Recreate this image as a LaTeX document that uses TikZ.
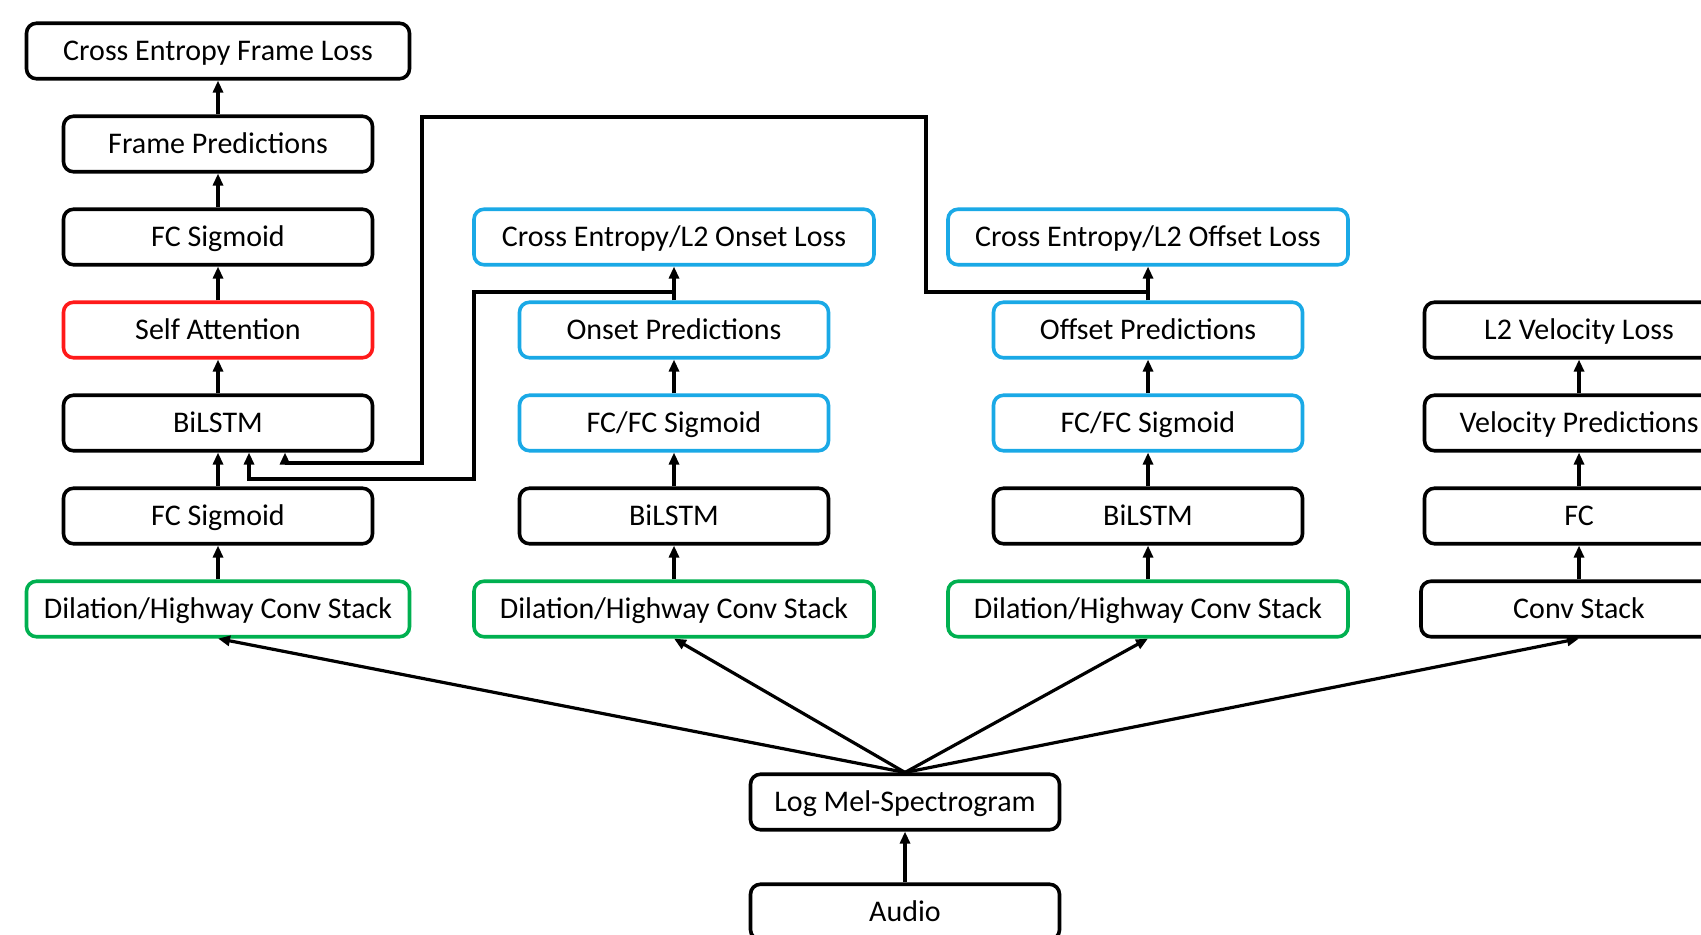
\documentclass[tikz,border=0pt]{standalone}
\usepackage{fontspec}
\setmainfont{Carlito}
\usetikzlibrary{arrows.meta, calc}
\definecolor{attnred}{HTML}{FF1A1A}
\definecolor{convgreen}{HTML}{00B050}
\definecolor{headblue}{HTML}{1AA9E6}

\begin{document}
\begin{tikzpicture}[
    x=0.5pt, y=-0.5pt,
    >={Triangle[length=6pt,width=5pt]},
    box/.style={draw, line width=1.8pt, rounded corners=5pt,
        minimum width=154.5pt, minimum height=27.75pt, inner sep=0pt,
        text height=11.5pt, text depth=1.8pt,
        font=\fontsize{15}{18}\selectfont},
    wide/.style={box, minimum width=191.5pt},
    wider/.style={box, minimum width=200pt},
    arr/.style={->, line width=1.6pt}
]

\useasboundingbox (0,0) rectangle (1701,935);

% Frame branch
\node[wide] (fl) at (218,51) {Cross Entropy Frame Loss};
\node[box] (fp) at (218,144) {Frame Predictions};
\node[box] (fs2) at (218,237) {FC Sigmoid};
\node[box, draw=attnred] (att) at (218,330) {Self Attention};
\node[box] (bil1) at (218,423) {BiLSTM};
\node[box] (fs1) at (218,516) {FC Sigmoid};
\node[wide, draw=convgreen] (dil1) at (218,609) {Dilation/Highway Conv Stack};

% Onset branch
\node[wider, draw=headblue] (onl) at (674,237) {Cross Entropy/L2 Onset Loss};
\node[box, draw=headblue] (onp) at (674,330) {Onset Predictions};
\node[box, draw=headblue] (onfc) at (674,423) {FC/FC Sigmoid};
\node[box] (bil2) at (674,516) {BiLSTM};
\node[wider, draw=convgreen] (dil2) at (674,609) {Dilation/Highway Conv Stack};

% Offset branch
\node[wider, draw=headblue] (offl) at (1148,237) {Cross Entropy/L2 Offset Loss};
\node[box, draw=headblue] (offp) at (1148,330) {Offset Predictions};
\node[box, draw=headblue] (offfc) at (1148,423) {FC/FC Sigmoid};
\node[box] (bil3) at (1148,516) {BiLSTM};
\node[wider, draw=convgreen] (dil3) at (1148,609) {Dilation/Highway Conv Stack};

% Velocity branch
\node[box] (vl) at (1579,330) {L2 Velocity Loss};
\node[box] (vp) at (1579,423) {Velocity Predictions};
\node[box] (vfc) at (1579,516) {FC};
\node[box, minimum width=158pt] (cs) at (1579,609) {Conv Stack};

% Input
\node[box] (mel) at (905,802) {Log Mel-Spectrogram};
\node[box] (audio) at (905,912) {Audio};

% vertical stacks
\draw[arr] (audio) -- (mel);
\draw[arr] (dil1) -- (fs1);
\draw[arr] (fs1) -- (bil1);
\draw[arr] (bil1) -- (att);
\draw[arr] (att) -- (fs2);
\draw[arr] (fs2) -- (fp);
\draw[arr] (fp) -- (fl);
\draw[arr] (dil2) -- (bil2);
\draw[arr] (bil2) -- (onfc);
\draw[arr] (onfc) -- (onp);
\draw[arr] (onp) -- (onl);
\draw[arr] (dil3) -- (bil3);
\draw[arr] (bil3) -- (offfc);
\draw[arr] (offfc) -- (offp);
\draw[arr] (offp) -- (offl);
\draw[arr] (cs) -- (vfc);
\draw[arr] (vfc) -- (vp);
\draw[arr] (vp) -- (vl);

% spectrogram fans out to the four stacks
\foreach \t in {dil1, dil2, dil3, cs}
    \draw[arr] (mel.north) -- (\t.south);

% onset and offset predictions fed back into the frame BiLSTM
\coordinate (onj) at (674,292);
\coordinate (onr) at (474,479);
\draw[arr] (onj) -| (onr) -| ([xshift=15.5pt]bil1.south);

\coordinate (offj) at (1148,292);
\coordinate (topr) at (926,117);
\coordinate (topl) at (422,463);
\draw[arr] (offj) -| (topr) -| (topl) -| ([xshift=33.5pt]bil1.south);

\end{tikzpicture}
\end{document}
